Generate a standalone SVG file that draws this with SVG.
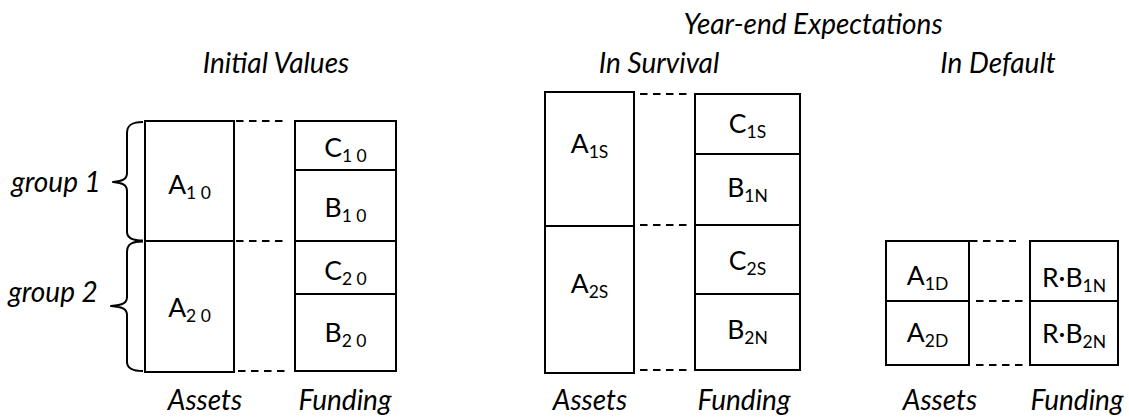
<svg xmlns="http://www.w3.org/2000/svg" width="1129" height="419" viewBox="0 0 1129 419">
  <style>
    .box { fill: #ffffff; stroke: #000000; stroke-width: 2; }
    .dash { fill: none; stroke: #000000; stroke-width: 2; stroke-dasharray: 7.5 5.5; }
    .brace { fill: none; stroke: #000000; stroke-width: 2; stroke-linejoin: round; }
    .lbl { font-family: Lato, "Liberation Sans", sans-serif; font-size: 26.5px; fill: #000000; text-anchor: middle; }
    .ital { font-family: Lato, "Liberation Sans", sans-serif; font-size: 28px; font-style: italic; fill: #000000; text-anchor: middle; }
    .sub { font-size: 17.5px; }
  </style>

  <!-- headings -->
  <g id="headings">
    <text class="ital" x="813" y="34">Year-end Expectations</text>
    <text class="ital" x="276" y="73">Initial Values</text>
    <text class="ital" x="659" y="73">In Survival</text>
    <text class="ital" x="998" y="73">In Default</text>
  </g>

  <!-- column captions -->
  <g id="captions">
    <text class="ital" x="205" y="410">Assets</text>
    <text class="ital" x="345" y="410">Funding</text>
    <text class="ital" x="590" y="410">Assets</text>
    <text class="ital" x="744" y="410">Funding</text>
    <text class="ital" x="940" y="410">Assets</text>
    <text class="ital" x="1077" y="410">Funding</text>
  </g>

  <!-- group braces -->
  <g id="group1">
    <path class="brace" d="M143,122 C132,122 127,125 127,133 L127,173 C127,179 123,181 113,182 C123,183 127,185 127,191 L127,232 C127,238 132,240.5 143,240.5"/>
    <text class="ital" x="56" y="192">group 1</text>
  </g>
  <g id="group2">
    <path class="brace" d="M143,241.5 C132,241.5 127,244 127,252 L127,297 C127,303 123,305 111,306 C123,307 127,309 127,315 L127,362 C127,368 132,371 143,371"/>
    <text class="ital" x="53" y="302">group 2</text>
  </g>

  <!-- connectors: dashed level guides between asset and funding columns -->
  <g id="connectors">
    <line class="dash" x1="236" y1="121" x2="288" y2="121"/>
    <line class="dash" x1="236" y1="241" x2="288" y2="241"/>
    <line class="dash" x1="238" y1="371" x2="288" y2="371"/>
    <line class="dash" x1="640" y1="94" x2="688" y2="94"/>
    <line class="dash" x1="640" y1="225" x2="688" y2="225"/>
    <line class="dash" x1="640" y1="370" x2="688" y2="370"/>
    <line class="dash" x1="970" y1="241" x2="1016" y2="241"/>
    <line class="dash" x1="976" y1="301" x2="1023" y2="301"/>
    <line class="dash" x1="976" y1="365" x2="1023" y2="365"/>
  </g>

  <!-- initial values: assets -->
  <g id="A10">
    <rect class="box" x="145" y="121" width="89" height="120"/>
    <text class="lbl" x="189.5" y="194">A<tspan class="sub" dy="5">1 0</tspan></text>
  </g>
  <g id="A20">
    <rect class="box" x="145" y="241" width="89" height="131"/>
    <text class="lbl" x="189.5" y="317">A<tspan class="sub" dy="5">2 0</tspan></text>
  </g>

  <!-- initial values: funding -->
  <g id="C10">
    <rect class="box" x="295" y="121" width="101" height="49"/>
    <text class="lbl" x="345.5" y="157">C<tspan class="sub" dy="5">1 0</tspan></text>
  </g>
  <g id="B10">
    <rect class="box" x="295" y="170" width="101" height="71"/>
    <text class="lbl" x="345.5" y="217">B<tspan class="sub" dy="5">1 0</tspan></text>
  </g>
  <g id="C20">
    <rect class="box" x="295" y="241" width="101" height="53"/>
    <text class="lbl" x="345.5" y="280">C<tspan class="sub" dy="5">2 0</tspan></text>
  </g>
  <g id="B20">
    <rect class="box" x="295" y="294" width="101" height="77"/>
    <text class="lbl" x="345.5" y="342">B<tspan class="sub" dy="5">2 0</tspan></text>
  </g>

  <!-- survival: assets -->
  <g id="A1S">
    <rect class="box" x="545" y="92" width="89" height="134"/>
    <text class="lbl" x="589.5" y="153">A<tspan class="sub" dy="5">1S</tspan></text>
  </g>
  <g id="A2S">
    <rect class="box" x="545" y="226" width="89" height="147"/>
    <text class="lbl" x="589.5" y="293">A<tspan class="sub" dy="5">2S</tspan></text>
  </g>

  <!-- survival: funding -->
  <g id="C1S">
    <rect class="box" x="695" y="94" width="105" height="60"/>
    <text class="lbl" x="747.5" y="133">C<tspan class="sub" dy="5">1S</tspan></text>
  </g>
  <g id="B1N">
    <rect class="box" x="695" y="154" width="105" height="71"/>
    <text class="lbl" x="747.5" y="197">B<tspan class="sub" dy="5">1N</tspan></text>
  </g>
  <g id="C2S">
    <rect class="box" x="695" y="225" width="105" height="69"/>
    <text class="lbl" x="747.5" y="270">C<tspan class="sub" dy="5">2S</tspan></text>
  </g>
  <g id="B2N">
    <rect class="box" x="695" y="294" width="105" height="76"/>
    <text class="lbl" x="747.5" y="339">B<tspan class="sub" dy="5">2N</tspan></text>
  </g>

  <!-- default: assets -->
  <g id="A1D">
    <rect class="box" x="886" y="241" width="83" height="60"/>
    <text class="lbl" x="927.5" y="285">A<tspan class="sub" dy="5">1D</tspan></text>
  </g>
  <g id="A2D">
    <rect class="box" x="886" y="301" width="83" height="64"/>
    <text class="lbl" x="927.5" y="342">A<tspan class="sub" dy="5">2D</tspan></text>
  </g>

  <!-- default: funding after recovery -->
  <g id="RB1N">
    <rect class="box" x="1030" y="241" width="88" height="60"/>
    <text class="lbl" x="1074" y="287">R·B<tspan class="sub" dy="5">1N</tspan></text>
  </g>
  <g id="RB2N">
    <rect class="box" x="1030" y="301" width="88" height="64"/>
    <text class="lbl" x="1074" y="343">R·B<tspan class="sub" dy="5">2N</tspan></text>
  </g>
</svg>
